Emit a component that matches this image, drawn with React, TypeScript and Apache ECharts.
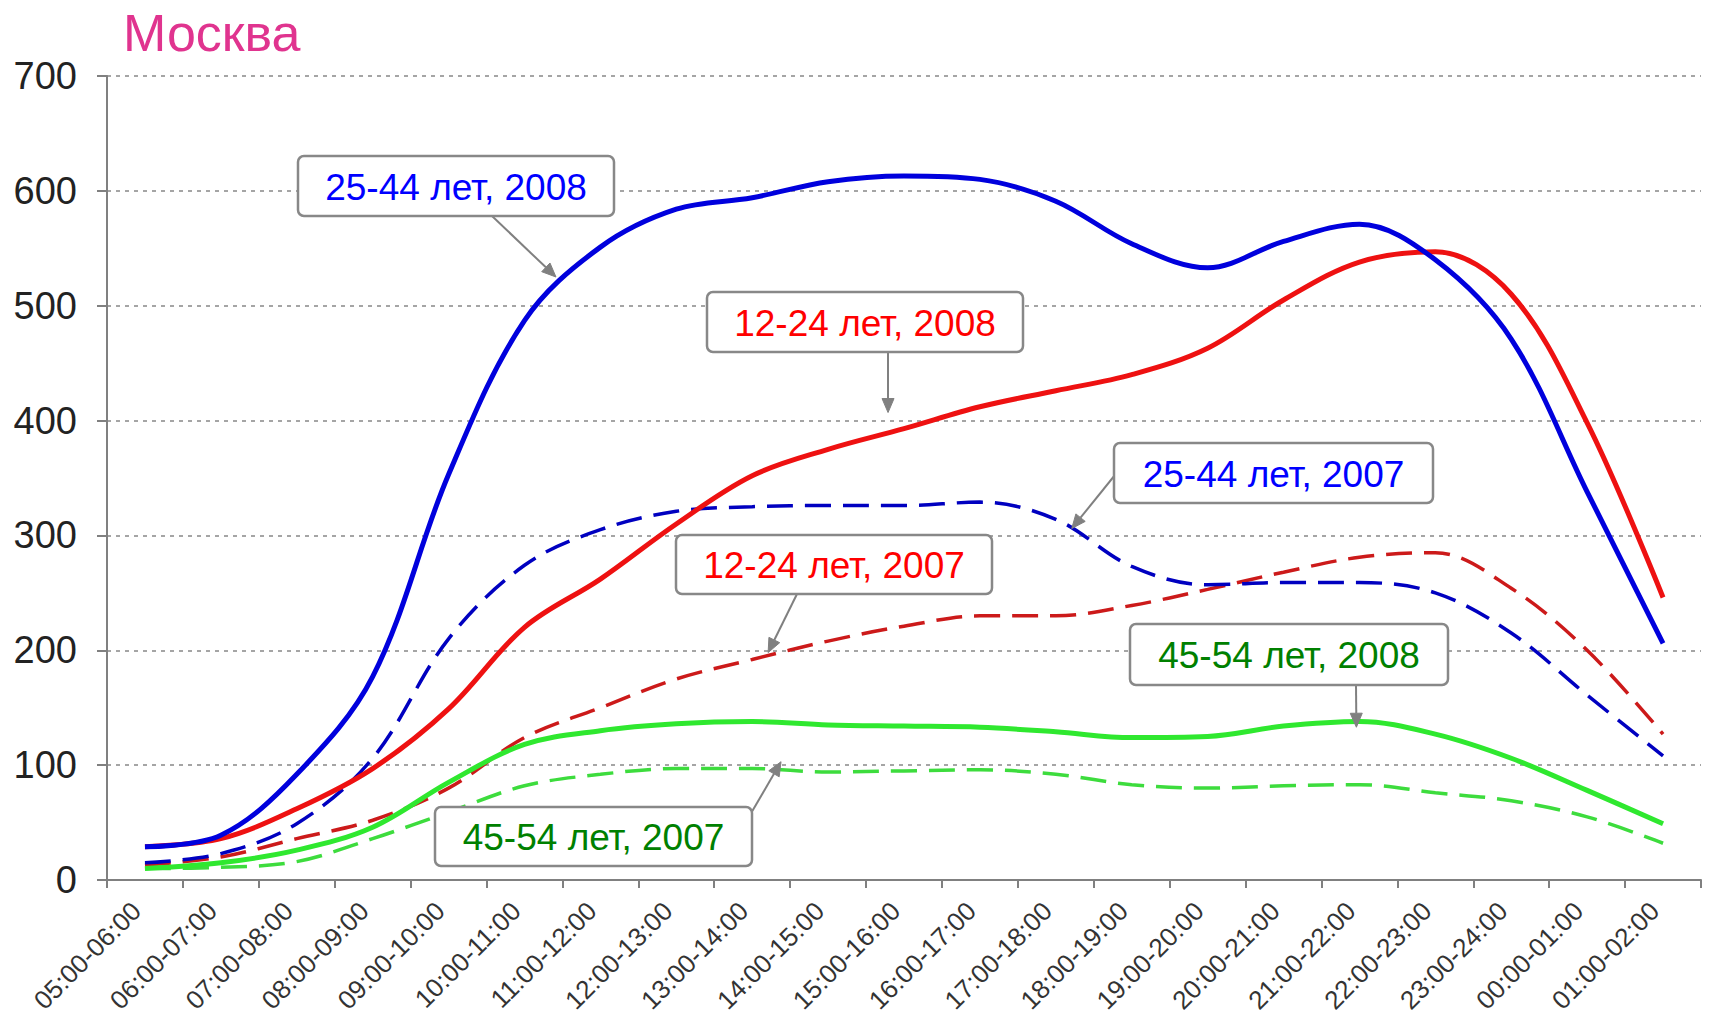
import React, { useEffect, useRef } from 'react';
import * as echarts from 'echarts';

const categories = [
  '05:00-06:00', '06:00-07:00', '07:00-08:00', '08:00-09:00', '09:00-10:00',
  '10:00-11:00', '11:00-12:00', '12:00-13:00', '13:00-14:00', '14:00-15:00',
  '15:00-16:00', '16:00-17:00', '17:00-18:00', '18:00-19:00', '19:00-20:00',
  '20:00-21:00', '21:00-22:00', '22:00-23:00', '23:00-24:00', '00:00-01:00',
  '01:00-02:00',
];

const age25_44_2008 = [29, 39, 92, 177, 353, 487, 551, 584, 594, 608, 613, 610, 591, 554, 533, 556, 571, 540, 471, 338, 206];
const age12_24_2008 = [29, 36, 62, 97, 149, 220, 262, 310, 352, 375, 393, 412, 426, 440, 463, 505, 538, 547, 510, 398, 246];
const age45_54_2008 = [10, 15, 26, 46, 85, 118, 130, 136, 138, 135, 134, 133, 129, 124, 125, 134, 138, 127, 106, 78, 49];
const age25_44_2007 = [15, 23, 49, 106, 210, 274, 305, 321, 325, 326, 326, 329, 314, 273, 257, 259, 259, 250, 215, 161, 108];
const age12_24_2007 = [13, 20, 36, 52, 80, 124, 150, 175, 192, 208, 221, 230, 230, 239, 253, 268, 281, 285, 254, 200, 127];
const age45_54_2007 = [10, 11, 16, 36, 59, 82, 92, 97, 97, 94, 95, 96, 92, 83, 80, 82, 83, 76, 69, 55, 32];

const yMin = 0;
const yMax = 700;
const yStep = 100;

const FONT = "'Liberation Sans', Arial, sans-serif";

// Callout boxes: box in pixels, arrow tip in data coordinates [category index, value]
const callouts = [
  { text: '25-44 лет, 2008', color: '#0000ff', box: [298, 156, 316, 60], from: [492, 216], tip: [5.415, 525] },
  { text: '12-24 лет, 2008', color: '#ff0000', box: [707, 292, 316, 60], from: [888, 352], tip: [9.79, 407] },
  { text: '25-44 лет, 2007', color: '#0000ff', box: [1114, 443, 319, 60], from: [1115, 475], tip: [12.21, 306] },
  { text: '12-24 лет, 2007', color: '#ff0000', box: [676, 535, 316, 59], from: [797, 594], tip: [8.21, 198] },
  { text: '45-54 лет, 2008', color: '#008000', box: [1130, 624, 318, 61], from: [1356, 685], tip: [15.96, 133] },
  { text: '45-54 лет, 2007', color: '#008000', box: [435, 807, 317, 59], from: [750, 815], tip: [8.38, 103] },
];

function lineSeries(name: string, data: number[], color: string, dashed: boolean, z: number) {
  return {
    name,
    type: 'line',
    data,
    smooth: 0.35,
    symbol: 'none',
    z,
    lineStyle: dashed
      ? { color, width: 3.5, type: [26, 12] }
      : { color, width: 5, type: 'solid' },
  };
}

export default function App() {
  const ref = useRef<HTMLDivElement>(null);

  useEffect(() => {
    if (!ref.current) return;
    const chart = echarts.init(ref.current, null, { renderer: 'svg' });
    chart.setOption({
      animation: false,
      backgroundColor: '#ffffff',
      title: {
        text: 'Москва',
        left: 118,
        top: 2,
        textStyle: { fontFamily: FONT, fontSize: 52, fontWeight: 'normal', color: '#e0348f' },
      },
      grid: { left: 107, right: 8, top: 76, bottom: 139, containLabel: false, outerBoundsMode: 'none' },
      xAxis: {
        type: 'category',
        data: categories,
        boundaryGap: true,
        axisLine: { show: true, lineStyle: { color: '#808080', width: 2 } },
        axisTick: { show: true, length: 8, interval: 0, lineStyle: { color: '#808080', width: 2 } },
        axisLabel: {
          interval: 0,
          rotate: 45,
          margin: 18,
          padding: [0, 12, 0, 0],
          lineHeight: 20,
          fontFamily: FONT,
          fontSize: 26,
          color: '#333333',
        },
        splitLine: { show: false },
      },
      yAxis: {
        type: 'value',
        min: yMin,
        max: yMax,
        interval: yStep,
        axisLine: { show: true, lineStyle: { color: '#808080', width: 2 } },
        axisTick: { show: true, length: 10, lineStyle: { color: '#808080', width: 2 } },
        axisLabel: { margin: 30, fontFamily: FONT, fontSize: 38, color: '#222222' },
        splitLine: { show: true, lineStyle: { color: '#888888', width: 1.5, type: [4, 5] } },
      },
      series: [
        lineSeries('45-54 лет, 2007', age45_54_2007, '#3ddc3d', true, 2),
        lineSeries('12-24 лет, 2007', age12_24_2007, '#cc1a1a', true, 2),
        lineSeries('25-44 лет, 2007', age25_44_2007, '#0000c0', true, 2),
        lineSeries('45-54 лет, 2008', age45_54_2008, '#2fe82f', false, 3),
        lineSeries('12-24 лет, 2008', age12_24_2008, '#ee1111', false, 3),
        lineSeries('25-44 лет, 2008', age25_44_2008, '#0000dd', false, 4),
      ],
    });

    const toPx = (idx: number, val: number) => {
      const i0 = Math.floor(idx);
      const i1 = Math.min(i0 + 1, categories.length - 1);
      const p0 = chart.convertToPixel({ gridIndex: 0 }, [i0, val]) as number[];
      const p1 = chart.convertToPixel({ gridIndex: 0 }, [i1, val]) as number[];
      const f = idx - i0;
      return [p0[0] + (p1[0] - p0[0]) * f, p0[1]];
    };

    const elements: any[] = [];
    callouts.forEach((c) => {
      const [bx, by, bw, bh] = c.box;
      const tip = toPx(c.tip[0], c.tip[1]);
      const [sx, sy] = c.from;
      const dx = tip[0] - sx;
      const dy = tip[1] - sy;
      const len = Math.sqrt(dx * dx + dy * dy) || 1;
      const ux = dx / len;
      const uy = dy / len;
      const headL = 14;
      const headW = 6;
      const baseX = tip[0] - ux * headL;
      const baseY = tip[1] - uy * headL;
      elements.push({
        type: 'line',
        z: 100,
        shape: { x1: sx, y1: sy, x2: baseX, y2: baseY },
        style: { stroke: '#808080', lineWidth: 2 },
      });
      elements.push({
        type: 'polygon',
        z: 100,
        shape: {
          points: [
            [tip[0], tip[1]],
            [baseX - uy * headW, baseY + ux * headW],
            [baseX + uy * headW, baseY - ux * headW],
          ],
        },
        style: { fill: '#808080', stroke: '#808080', lineWidth: 1 },
      });
      elements.push({
        type: 'rect',
        z: 101,
        shape: { x: bx, y: by, width: bw, height: bh, r: 6 },
        style: { fill: '#ffffff', stroke: '#888888', lineWidth: 2.5 },
      });
      elements.push({
        type: 'text',
        z: 102,
        x: bx + bw / 2,
        y: by + bh / 2 + 1,
        style: {
          text: c.text,
          fill: c.color,
          font: `37px ${FONT}`,
          align: 'center',
          verticalAlign: 'middle',
        },
      });
    });
    chart.setOption({ graphic: elements });

    return () => {
      chart.dispose();
    };
  }, []);

  return (
    <div
      ref={ref}
      style={{ position: 'fixed', left: 0, top: 0, width: 1709, height: 1019 }}
    />
  );
}
